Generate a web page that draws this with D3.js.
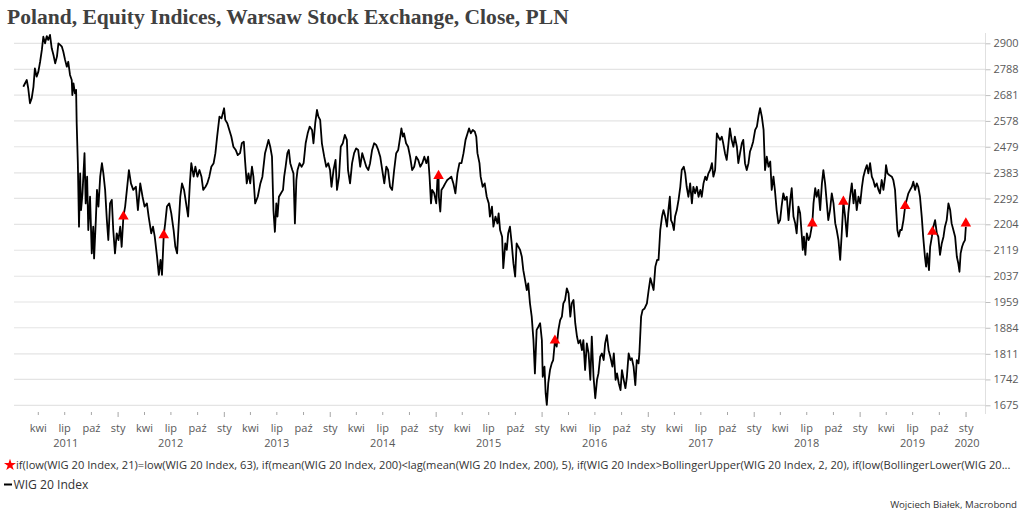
<!DOCTYPE html>
<html>
<head>
<meta charset="utf-8">
<script src="https://cdn.jsdelivr.net/npm/d3@7"></script>
<style>
  html, body { margin: 0; padding: 0; background: #fff; }
  svg { display: block; }
</style>
</head>
<body>
<div id="chart"></div>
<script>
// texts
const title = "Poland, Equity Indices, Warsaw Stock Exchange, Close, PLN";
const signalLabel = "if(low(WIG 20 Index, 21)=low(WIG 20 Index, 63), if(mean(WIG 20 Index, 200)<lag(mean(WIG 20 Index, 200), 5), if(WIG 20 Index>BollingerUpper(WIG 20 Index, 2, 20), if(low(BollingerLower(WIG 20...";
const seriesLabel = "WIG 20 Index";
const source = "Wojciech Białek, Macrobond";

// axis ticks
const yTicks = [1675, 1742, 1811, 1884, 1959, 2037, 2119, 2204, 2292, 2383, 2479, 2578, 2681, 2788, 2900];
const years = [2011, 2012, 2013, 2014, 2015, 2016, 2017, 2018, 2019, 2020];
const shortMonthsPl = ["sty", "lut", "mar", "kwi", "maj", "cze", "lip", "sie", "wrz", "paź", "lis", "gru"];

// WIG 20 close
const wig20 = [
  ["2011-02-10",2715],["2011-02-22",2743],["2011-02-27",2709],["2011-03-05",2648],["2011-03-11",2668],["2011-03-17",2715],["2011-03-22",2792],["2011-03-28",2757],["2011-04-03",2778],["2011-04-09",2820],["2011-04-15",2871],["2011-04-20",2929],["2011-04-26",2900],["2011-05-02",2932],["2011-05-07",2915],["2011-05-13",2937],["2011-05-19",2878],["2011-05-25",2849],["2011-05-31",2813],["2011-06-06",2842],["2011-06-11",2900],["2011-06-17",2893],["2011-06-23",2885],["2011-06-28",2863],["2011-07-04",2828],["2011-07-10",2799],["2011-07-15",2820],["2011-07-21",2764],["2011-07-27",2743],["2011-07-29",2681],["2011-08-02",2729],["2011-08-07",2688],["2011-08-11",2702],["2011-08-13",2569],["2011-08-17",2418],["2011-08-21",2196],["2011-08-25",2381],["2011-08-28",2252],["2011-09-02",2310],["2011-09-09",2455],["2011-09-13",2275],["2011-09-18",2369],["2011-09-22",2185],["2011-09-28",2298],["2011-10-04",2109],["2011-10-09",2196],["2011-10-12",2093],["2011-10-18",2218],["2011-10-22",2322],["2011-10-27",2264],["2011-11-02",2369],["2011-11-08",2418],["2011-11-13",2381],["2011-11-19",2322],["2011-11-25",2218],["2011-11-30",2152],["2011-12-06",2275],["2011-12-12",2287],["2011-12-17",2185],["2011-12-23",2109],["2011-12-29",2174],
  ["2012-01-04",2152],["2012-01-10",2196],["2012-01-15",2130],["2012-01-21",2230],["2012-01-27",2264],["2012-02-02",2322],["2012-02-09",2393],["2012-02-16",2345],["2012-02-24",2322],["2012-03-04",2333],["2012-03-11",2252],["2012-03-19",2345],["2012-03-27",2298],["2012-04-03",2264],["2012-04-11",2275],["2012-04-17",2230],["2012-04-26",2174],["2012-05-02",2196],["2012-05-08",2163],["2012-05-16",2098],["2012-05-22",2041],["2012-05-28",2088],["2012-06-02",2041],["2012-06-08",2168],["2012-06-13",2207],["2012-06-19",2264],["2012-06-27",2275],["2012-07-04",2241],["2012-07-12",2185],["2012-07-18",2130],["2012-07-24",2109],["2012-07-29",2196],["2012-08-04",2298],["2012-08-10",2345],["2012-08-17",2322],["2012-08-24",2275],["2012-08-31",2230],["2012-09-06",2345],["2012-09-11",2418],["2012-09-19",2369],["2012-09-25",2405],["2012-10-02",2369],["2012-10-09",2393],["2012-10-16",2369],["2012-10-22",2322],["2012-10-30",2333],["2012-11-05",2345],["2012-11-12",2369],["2012-11-19",2405],["2012-11-27",2418],["2012-12-03",2455],["2012-12-09",2517],["2012-12-17",2595],["2012-12-24",2588],
  ["2013-01-02",2628],["2013-01-06",2582],["2013-01-13",2569],["2013-01-20",2543],["2013-01-27",2517],["2013-02-03",2479],["2013-02-11",2467],["2013-02-18",2448],["2013-02-26",2455],["2013-03-04",2492],["2013-03-11",2498],["2013-03-15",2430],["2013-03-21",2345],["2013-03-27",2381],["2013-04-02",2345],["2013-04-08",2405],["2013-04-13",2369],["2013-04-19",2275],["2013-04-28",2298],["2013-05-07",2345],["2013-05-14",2369],["2013-05-23",2455],["2013-05-29",2479],["2013-06-04",2505],["2013-06-10",2479],["2013-06-16",2442],["2013-06-21",2252],["2013-06-26",2179],["2013-07-01",2275],["2013-07-05",2230],["2013-07-10",2298],["2013-07-17",2310],["2013-07-24",2322],["2013-07-28",2369],["2013-08-02",2405],["2013-08-08",2455],["2013-08-13",2467],["2013-08-18",2418],["2013-08-25",2393],["2013-08-29",2381],["2013-09-03",2207],["2013-09-08",2357],["2013-09-12",2393],["2013-09-19",2418],["2013-09-26",2405],["2013-10-03",2418],["2013-10-10",2492],["2013-10-17",2530],["2013-10-24",2556],["2013-11-01",2543],["2013-11-06",2492],["2013-11-12",2569],["2013-11-18",2621],["2013-11-23",2595],["2013-11-29",2582],["2013-12-05",2492],["2013-12-13",2442],["2013-12-20",2405],["2013-12-27",2418],
  ["2014-01-02",2393],["2014-01-07",2333],["2014-01-14",2393],["2014-01-21",2430],["2014-01-26",2322],["2014-02-02",2369],["2014-02-08",2479],["2014-02-15",2492],["2014-02-22",2524],["2014-03-01",2505],["2014-03-05",2393],["2014-03-12",2345],["2014-03-19",2418],["2014-03-26",2455],["2014-04-02",2473],["2014-04-09",2467],["2014-04-16",2405],["2014-04-23",2455],["2014-04-30",2430],["2014-05-07",2405],["2014-05-14",2393],["2014-05-20",2418],["2014-05-27",2467],["2014-06-03",2492],["2014-06-10",2486],["2014-06-17",2467],["2014-06-24",2442],["2014-07-01",2393],["2014-07-08",2345],["2014-07-15",2405],["2014-07-21",2393],["2014-07-28",2333],["2014-08-04",2322],["2014-08-11",2393],["2014-08-18",2455],["2014-08-25",2467],["2014-09-01",2517],["2014-09-05",2549],["2014-09-10",2517],["2014-09-14",2530],["2014-09-21",2492],["2014-09-28",2479],["2014-10-05",2442],["2014-10-12",2393],["2014-10-19",2405],["2014-10-26",2442],["2014-11-02",2430],["2014-11-09",2405],["2014-11-16",2418],["2014-11-23",2442],["2014-11-30",2418],["2014-12-06",2442],["2014-12-11",2369],["2014-12-16",2275],["2014-12-20",2322],["2014-12-27",2310],
  ["2015-01-03",2275],["2015-01-07",2357],["2015-01-11",2372],["2015-01-12",2298],["2015-01-17",2247],["2015-01-21",2322],["2015-01-28",2333],["2015-02-03",2345],["2015-02-10",2357],["2015-02-17",2363],["2015-02-24",2369],["2015-03-03",2345],["2015-03-10",2310],["2015-03-17",2381],["2015-03-24",2418],["2015-03-31",2418],["2015-04-07",2455],["2015-04-14",2505],["2015-04-21",2530],["2015-04-26",2549],["2015-05-02",2530],["2015-05-09",2543],["2015-05-16",2536],["2015-05-21",2517],["2015-05-25",2455],["2015-06-01",2418],["2015-06-05",2369],["2015-06-12",2333],["2015-06-19",2345],["2015-06-26",2298],["2015-07-03",2275],["2015-07-07",2230],["2015-07-14",2264],["2015-07-19",2196],["2015-07-26",2230],["2015-08-02",2207],["2015-08-06",2241],["2015-08-11",2185],["2015-08-18",2163],["2015-08-22",2062],["2015-08-29",2141],["2015-09-03",2120],["2015-09-08",2174],["2015-09-14",2196],["2015-09-20",2141],["2015-09-26",2077],["2015-10-02",2036],["2015-10-07",2141],["2015-10-13",2130],["2015-10-19",2120],["2015-10-25",2098],["2015-10-30",2056],["2015-11-05",2026],["2015-11-11",1995],["2015-11-16",2015],["2015-11-22",1955],["2015-11-28",1916],["2015-12-04",1849],["2015-12-09",1758],["2015-12-15",1878],["2015-12-21",1887],["2015-12-27",1897],
  ["2016-01-02",1849],["2016-01-05",1749],["2016-01-11",1776],["2016-01-15",1706],["2016-01-19",1676],["2016-01-24",1732],["2016-01-30",1767],["2016-02-05",1785],["2016-02-10",1794],["2016-02-16",1846],["2016-02-22",1831],["2016-02-28",1878],["2016-03-05",1906],["2016-03-11",1916],["2016-03-16",1955],["2016-03-22",1965],["2016-03-28",2000],["2016-04-03",1985],["2016-04-09",1916],["2016-04-14",1955],["2016-04-20",1965],["2016-04-26",1897],["2016-05-02",1859],["2016-05-07",1840],["2016-05-13",1849],["2016-05-19",1821],["2016-05-24",1849],["2016-05-30",1767],["2016-06-05",1840],["2016-06-11",1812],["2016-06-17",1741],["2016-06-22",1859],["2016-06-28",1749],["2016-07-04",1693],["2016-07-10",1741],["2016-07-15",1758],["2016-07-21",1803],["2016-07-27",1812],["2016-08-02",1794],["2016-08-07",1840],["2016-08-13",1863],["2016-08-19",1821],["2016-08-25",1803],["2016-09-01",1776],["2016-09-06",1812],["2016-09-12",1741],["2016-09-17",1758],["2016-09-23",1732],["2016-09-29",1714],["2016-10-04",1767],["2016-10-10",1741],["2016-10-16",1719],["2016-10-21",1749],["2016-10-27",1812],["2016-11-02",1794],["2016-11-07",1799],["2016-11-13",1776],["2016-11-19",1727],["2016-11-24",1794],["2016-11-30",1785],["2016-12-03",1812],["2016-12-09",1916],["2016-12-14",1935],["2016-12-21",1940],["2016-12-29",1955],
  ["2017-01-04",1995],["2017-01-10",2031],["2017-01-15",2015],["2017-01-21",1995],["2017-01-27",2067],["2017-02-02",2088],["2017-02-07",2088],["2017-02-13",2185],["2017-02-19",2230],["2017-02-24",2252],["2017-03-02",2230],["2017-03-08",2196],["2017-03-13",2252],["2017-03-18",2298],["2017-03-22",2218],["2017-03-27",2207],["2017-04-01",2185],["2017-04-05",2230],["2017-04-11",2252],["2017-04-17",2287],["2017-04-23",2333],["2017-04-28",2393],["2017-05-05",2405],["2017-05-10",2381],["2017-05-15",2333],["2017-05-21",2298],["2017-05-27",2345],["2017-06-02",2275],["2017-06-07",2333],["2017-06-13",2310],["2017-06-19",2333],["2017-06-25",2298],["2017-07-01",2322],["2017-07-06",2298],["2017-07-12",2345],["2017-07-18",2369],["2017-07-23",2357],["2017-07-29",2381],["2017-08-04",2393],["2017-08-10",2418],["2017-08-15",2369],["2017-08-21",2393],["2017-08-27",2530],["2017-09-01",2517],["2017-09-07",2505],["2017-09-13",2517],["2017-09-18",2492],["2017-09-24",2455],["2017-09-30",2430],["2017-10-06",2492],["2017-10-11",2549],["2017-10-17",2505],["2017-10-23",2479],["2017-10-28",2517],["2017-11-04",2479],["2017-11-09",2418],["2017-11-15",2455],["2017-11-21",2492],["2017-11-26",2505],["2017-12-02",2418],["2017-12-08",2393],["2017-12-14",2418],["2017-12-19",2460],["2017-12-25",2479],["2017-12-30",2498],
  ["2018-01-06",2543],["2018-01-12",2556],["2018-01-18",2601],["2018-01-23",2628],["2018-01-29",2595],["2018-02-04",2543],["2018-02-09",2393],["2018-02-15",2442],["2018-02-21",2405],["2018-02-27",2424],["2018-03-04",2322],["2018-03-10",2369],["2018-03-15",2322],["2018-03-21",2252],["2018-03-27",2207],["2018-04-02",2218],["2018-04-07",2264],["2018-04-13",2310],["2018-04-19",2287],["2018-04-25",2298],["2018-05-01",2218],["2018-05-07",2287],["2018-05-12",2328],["2018-05-18",2230],["2018-05-24",2207],["2018-05-29",2174],["2018-06-04",2264],["2018-06-10",2241],["2018-06-16",2163],["2018-06-19",2120],["2018-06-23",2163],["2018-06-28",2104],["2018-07-03",2174],["2018-07-09",2152],["2018-07-14",2163],["2018-07-20",2196],["2018-07-22",2207],["2018-07-26",2275],["2018-08-01",2328],["2018-08-06",2298],["2018-08-12",2322],["2018-08-18",2252],["2018-08-24",2345],["2018-08-29",2393],["2018-09-04",2345],["2018-09-10",2275],["2018-09-15",2218],["2018-09-21",2252],["2018-09-27",2310],["2018-10-03",2275],["2018-10-09",2207],["2018-10-14",2185],["2018-10-20",2152],["2018-10-26",2088],["2018-11-01",2185],["2018-11-06",2281],["2018-11-12",2230],["2018-11-18",2163],["2018-11-23",2241],["2018-11-29",2298],["2018-12-05",2345],["2018-12-11",2275],["2018-12-16",2322],["2018-12-22",2252],["2018-12-28",2298],
  ["2019-01-03",2275],["2019-01-09",2333],["2019-01-14",2369],["2019-01-20",2393],["2019-01-26",2411],["2019-01-31",2381],["2019-02-06",2418],["2019-02-12",2369],["2019-02-17",2357],["2019-02-23",2333],["2019-03-01",2345],["2019-03-07",2322],["2019-03-12",2310],["2019-03-18",2357],["2019-03-24",2322],["2019-03-30",2369],["2019-04-02",2411],["2019-04-07",2381],["2019-04-13",2375],["2019-04-22",2369],["2019-04-27",2357],["2019-05-03",2322],["2019-05-07",2252],["2019-05-11",2185],["2019-05-16",2163],["2019-05-21",2185],["2019-05-26",2185],["2019-06-01",2218],["2019-06-07",2266],["2019-06-12",2287],["2019-06-18",2310],["2019-06-24",2322],["2019-06-30",2333],["2019-07-05",2351],["2019-07-11",2322],["2019-07-17",2345],["2019-07-22",2333],["2019-07-28",2298],["2019-08-03",2230],["2019-08-08",2163],["2019-08-14",2098],["2019-08-18",2067],["2019-08-22",2109],["2019-08-28",2056],["2019-09-01",2130],["2019-09-07",2163],["2019-09-09",2179],["2019-09-12",2196],["2019-09-18",2218],["2019-09-24",2174],["2019-09-29",2163],["2019-10-05",2104],["2019-10-11",2141],["2019-10-17",2163],["2019-10-22",2196],["2019-10-28",2218],["2019-11-03",2275],["2019-11-09",2252],["2019-11-14",2207],["2019-11-20",2185],["2019-11-26",2163],["2019-12-02",2098],["2019-12-07",2077],["2019-12-11",2051],["2019-12-15",2109],["2019-12-20",2130],["2019-12-24",2141],["2019-12-30",2152],["2020-01-02",2196]
];

// dates where the signal formula fires
const signals = [
  ["2012-01-21",2230],["2012-06-08",2168],["2015-01-11",2372],["2016-02-16",1848],["2018-07-22",2207],
  ["2018-11-06",2281],["2019-06-07",2266],["2019-09-09",2179],["2020-01-02",2207]
];

const width = 1024, height = 520;
const plot = {left: 14, right: 985, top: 33, bottom: 412};
const sans = "'Open Sans', 'Noto Sans', sans-serif";
const textColor = "#595959";
const red = "#ff0000";

const parseDate = d3.timeParse("%Y-%m-%d");
const series = wig20.map(d => ({date: parseDate(d[0]), value: d[1]}));
const marks = signals.map(d => ({date: parseDate(d[0]), value: d[1]}));

const pl = d3.timeFormatLocale({
  dateTime: "%A, %e %B %Y, %X", date: "%d.%m.%Y", time: "%H:%M:%S",
  periods: ["AM", "PM"],
  days: ["niedziela", "poniedziałek", "wtorek", "środa", "czwartek", "piątek", "sobota"],
  shortDays: ["niedz.", "pon.", "wt.", "śr.", "czw.", "pt.", "sob."],
  months: ["styczeń", "luty", "marzec", "kwiecień", "maj", "czerwiec", "lipiec", "sierpień", "wrzesień", "październik", "listopad", "grudzień"],
  shortMonths: shortMonthsPl
});

const x = d3.scaleTime()
  .domain([new Date(2011, 0, 9), new Date(2020, 2, 8)])
  .range([plot.left, plot.right]);
const y = d3.scaleLog()
  .domain([yTicks[0], yTicks[yTicks.length - 1]])
  .range([405.3, 43.3]);

const svg = d3.select("#chart").append("svg")
  .attr("width", width).attr("height", height);

// shrink/grow a text to a given width
function fitWidth(sel, w) {
  const cur = sel.node().getComputedTextLength();
  const fs = parseFloat(sel.style("font-size"));
  sel.style("font-size", (fs * w / cur) + "px");
}

//Title
const t = svg.append("text").attr("x", 7).attr("y", 24)
  .style("font-family", "'Liberation Serif', serif").style("font-weight", "bold")
  .style("font-size", "20px").style("fill", "#404040").text(title);
fitWidth(t, 562);

//Gridlines
svg.append("g").selectAll("line").data(yTicks).enter().append("line")
  .attr("x1", plot.left).attr("x2", plot.right)
  .attr("y1", d => y(d)).attr("y2", d => y(d))
  .style("stroke", "#e4e4e4").style("stroke-width", 1.2);

//Right axis
svg.append("line").attr("x1", plot.right + 0.5).attr("x2", plot.right + 0.5)
  .attr("y1", plot.top).attr("y2", plot.bottom + 2)
  .style("stroke", "#e0e0e0");
const yAxis = d3.axisRight(y).tickValues(yTicks).tickFormat(d3.format("d")).tickSize(5).tickSizeOuter(0).tickPadding(3);
const gy = svg.append("g").attr("transform", "translate(" + (plot.right + 0.5) + ",0)").call(yAxis);
gy.select(".domain").remove();
gy.selectAll(".tick line").style("stroke", "#bfbfbf");
gy.selectAll(".tick text").style("font-family", sans).style("font-size", "11px").style("fill", textColor);

//Bottom axis
const xAxis = d3.axisBottom(x).ticks(d3.timeMonth.every(3)).tickFormat(pl.format("%b")).tickSize(3).tickPadding(9);
const gx = svg.append("g").attr("transform", "translate(0," + plot.bottom + ")").call(xAxis);
gx.select(".domain").remove();
gx.selectAll(".tick line").style("stroke", "#a6a6a6")
  .attr("y2", d => d.getMonth() === 0 ? 5 : 3);
gx.selectAll(".tick text").style("font-family", sans).style("font-size", "11px").style("fill", textColor);

// year labels in the middle of the visible part of each year, kept inside the plot
const [d0, d1] = x.domain();
svg.append("g").selectAll("text").data(years).enter().append("text")
  .attr("x", yr => {
    const a = Math.max(+new Date(yr, 0, 1), +d0), b = Math.min(+new Date(yr + 1, 0, 1), +d1);
    return Math.min((x(new Date(a)) + x(new Date(b))) / 2, plot.right - 18);
  })
  .attr("y", 447).attr("text-anchor", "middle")
  .style("font-family", sans).style("font-size", "11px").style("fill", textColor)
  .text(d => d);

//Line
const line = d3.line().x(d => x(d.date)).y(d => y(d.value));
svg.append("path").datum(series).attr("d", line)
  .style("fill", "none").style("stroke", "#000").style("stroke-width", 1.8)
  .style("stroke-linejoin", "round");

//Signal markers
svg.append("g").selectAll("path").data(marks).enter().append("path")
  .attr("transform", d => "translate(" + x(d.date) + "," + y(d.value) + ")")
  .attr("d", d3.symbol(d3.symbolTriangle, 48))
  .style("fill", red);

//Legend
svg.append("path").attr("transform", "translate(10,465)")
  .attr("d", d3.symbol(d3.symbolStar, 45)).style("fill", red);
const l1 = svg.append("text").attr("x", 16).attr("y", 469)
  .style("font-family", sans).style("font-size", "11px").style("fill", "#333").text(signalLabel);
fitWidth(l1, 996);

svg.append("line").attr("x1", 4).attr("x2", 12).attr("y1", 484.5).attr("y2", 484.5)
  .style("stroke", "#000").style("stroke-width", 2);
const l2 = svg.append("text").attr("x", 13.5).attr("y", 488.5)
  .style("font-family", sans).style("font-size", "11px").style("fill", "#333").text(seriesLabel);
fitWidth(l2, 75);

//Source
const s = svg.append("text").attr("x", 1017).attr("y", 508).attr("text-anchor", "end")
  .style("font-family", sans).style("font-size", "11px").style("fill", "#333").text(source);
fitWidth(s, 127);
</script>
</body>
</html>
